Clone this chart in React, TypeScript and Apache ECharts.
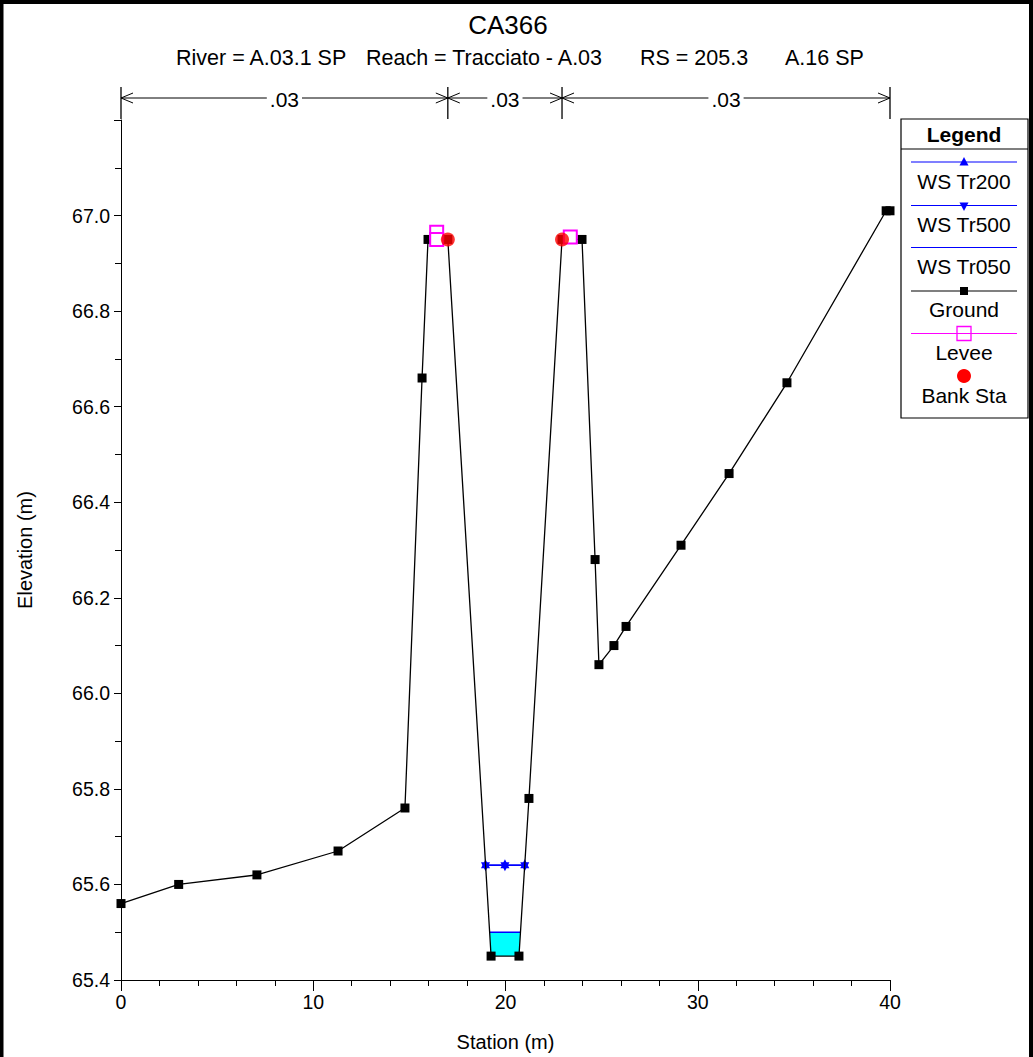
import React, { useEffect, useRef } from 'react';
import * as echarts from 'echarts';

const FONT = '"Liberation Sans", Arial, sans-serif';

const groundStation = [0, 3.0, 7.07, 11.29, 14.77, 15.66, 15.97, 17.0, 19.25, 20.7, 21.22, 22.94, 23.98, 24.66, 24.86, 25.64, 26.27, 29.13, 31.63, 34.64, 39.8, 40.0];
const groundElev = [65.56, 65.6, 65.62, 65.67, 65.76, 66.66, 66.95, 66.95, 65.45, 65.45, 65.78, 66.95, 66.95, 66.28, 66.06, 66.1, 66.14, 66.31, 66.46, 66.65, 67.01, 67.01];

const wsStation = [18.96, 19.97, 21.0];
const wsTr200 = [65.64, 65.64, 65.64];
const wsTr500 = [65.64, 65.64, 65.64];
const wsTr050Station = [19.18, 20.78];
const wsTr050 = [65.5, 65.5];

const leftLeveeStation = [16.42, 16.42];
const leftLeveeElev = [66.965, 66.95];
const rightLeveeStation = [23.37];
const rightLeveeElev = [66.955];

const bankStation = [17.0, 22.94];
const bankElev = [66.95, 66.95];

const nBreaks = [0, 17.0, 22.94, 40];
const nValues = ['.03', '.03', '.03'];

const xMin = 0, xMax = 40, xInterval = 10;
const yMin = 65.4, yMax = 67.2, yInterval = 0.2;

const titleText = 'CA366';
const subtitleParts = ['River = A.03.1 SP', 'Reach = Tracciato - A.03', 'RS = 205.3', 'A.16 SP'];
const legendNames = ['WS Tr200', 'WS Tr500', 'WS Tr050', 'Ground', 'Levee', 'Bank Sta'];

const zip = (xs: number[], ys: number[]) => xs.map((x, i) => [x, ys[i]]);

export default function App() {
  const ref = useRef<HTMLDivElement>(null);
  useEffect(() => {
    const chart = echarts.init(ref.current!, null, { renderer: 'svg' });

    const fillVerts: number[][] = [[wsTr050Station[0], wsTr050[0]]];
    groundStation.forEach((s, i) => {
      if (s > wsTr050Station[0] && s < wsTr050Station[1]) fillVerts.push([s, groundElev[i]]);
    });
    fillVerts.push([wsTr050Station[1], wsTr050[1]]);

    const option: any = {
      animation: false,
      backgroundColor: '#ffffff',
      textStyle: { fontFamily: FONT },
      grid: { left: 121, right: 143, top: 120, bottom: 74 },
      xAxis: {
        type: 'value', min: xMin, max: xMax, interval: xInterval,
        name: 'Station (m)', nameLocation: 'middle', nameGap: 52,
        nameTextStyle: { fontSize: 20, color: '#000', fontFamily: FONT },
        axisLine: { lineStyle: { color: '#000', width: 1 } },
        axisTick: { show: true, length: 11, lineStyle: { color: '#000' } },
        minorTick: { show: true, splitNumber: 5, length: 6, lineStyle: { color: '#000' } },
        axisLabel: { fontSize: 19.5, color: '#000', margin: 12, fontFamily: FONT },
        splitLine: { show: false },
      },
      yAxis: {
        type: 'value', min: yMin, max: yMax, interval: yInterval,
        name: 'Elevation (m)', nameLocation: 'middle', nameGap: 86, nameRotate: 90,
        nameTextStyle: { fontSize: 20, color: '#000', fontFamily: FONT },
        axisLine: { show: true, lineStyle: { color: '#000', width: 1 } },
        axisTick: { show: true, length: 7, lineStyle: { color: '#000' } },
        minorTick: { show: true, splitNumber: 2, length: 6, lineStyle: { color: '#000' } },
        axisLabel: {
          fontSize: 19.5, color: '#000', margin: 11, fontFamily: FONT,
          formatter: (v: number) => (v > yMax - 0.05 ? '' : v.toFixed(1)),
        },
        splitLine: { show: false },
      },
      series: [
        {
          type: 'custom', name: 'WS Tr050 fill', data: [[wsTr050Station[0], wsTr050[0]]],
          z: 1, silent: true,
          renderItem: (_p: any, api: any) => ({
            type: 'polygon',
            shape: { points: fillVerts.map((v) => api.coord(v)) },
            style: { fill: '#00ffff', stroke: 'none' },
          }),
        },
        {
          type: 'line', name: 'WS Tr050', data: zip(wsTr050Station, wsTr050), z: 2,
          showSymbol: false, symbol: 'none', lineStyle: { color: '#0000ff', width: 1.5 },
        },
        {
          type: 'line', name: 'WS Tr200', data: zip(wsStation, wsTr200), z: 3,
          symbol: 'triangle', symbolSize: 9, symbolOffset: [0, -1.5], itemStyle: { color: '#0000ff' },
          lineStyle: { color: '#0000ff', width: 1.5 },
        },
        {
          type: 'line', name: 'WS Tr500', data: zip(wsStation, wsTr500), z: 3,
          symbol: 'triangle', symbolRotate: 180, symbolSize: 9, symbolOffset: [0, 1.5], itemStyle: { color: '#0000ff' },
          lineStyle: { color: '#0000ff', width: 1.5 },
        },
        {
          type: 'line', name: 'Ground', data: zip(groundStation, groundElev), z: 4,
          symbol: 'rect', symbolSize: 9, itemStyle: { color: '#000' },
          lineStyle: { color: '#000', width: 1.3 },
        },
        {
          type: 'line', name: 'Levee', data: zip(leftLeveeStation, leftLeveeElev), z: 5,
          symbol: 'emptyRect', symbolSize: 13, itemStyle: { color: '#ff00ff', borderWidth: 1.3 },
          lineStyle: { color: '#ff00ff', width: 1 },
        },
        {
          type: 'line', name: 'Levee', data: zip(rightLeveeStation, rightLeveeElev), z: 5,
          symbol: 'emptyRect', symbolSize: 13, itemStyle: { color: '#ff00ff', borderWidth: 1.3 },
          lineStyle: { color: '#ff00ff', width: 1 },
        },
        {
          type: 'scatter', name: 'Bank Sta', data: zip(bankStation, bankElev), z: 6,
          symbol: 'circle', symbolSize: 14, itemStyle: { color: '#ff0000' },
        },
      ],
    };
    chart.setOption(option);

    const g: any[] = [];
    g.push({ type: 'rect', shape: { x: 1.5, y: 2, width: 1029.5, height: 1070 }, style: { fill: 'none', stroke: '#000', lineWidth: 4 }, silent: true });
    g.push({ type: 'text', style: { text: titleText, x: 508, y: 25, font: `26px ${FONT}`, fill: '#000', align: 'center', verticalAlign: 'middle', textAlign: 'center', textVerticalAlign: 'middle' } });
    const subX = [176, 366, 640, 785];
    subtitleParts.forEach((t, i) => {
      g.push({ type: 'text', style: { text: t, x: subX[i], y: 58, font: `21.5px ${FONT}`, fill: '#000', align: 'left', verticalAlign: 'middle', textAlign: 'left', textVerticalAlign: 'middle' } });
    });

    const arrowY = 98, barTop = 87, barBot = 119;
    const px = nBreaks.map((s) => chart.convertToPixel({ xAxisIndex: 0, yAxisIndex: 0 }, [s, yMax])[0]);
    px.forEach((x) => {
      g.push({ type: 'line', shape: { x1: x, y1: barTop, x2: x, y2: barBot }, style: { stroke: '#000', lineWidth: 1.3 } });
    });
    for (let i = 0; i < nValues.length; i++) {
      const a = px[i], b = px[i + 1];
      g.push({ type: 'line', shape: { x1: a, y1: arrowY, x2: b, y2: arrowY }, style: { stroke: '#000', lineWidth: 1 } });
      g.push({ type: 'polyline', shape: { points: [[a + 12, arrowY - 5], [a, arrowY], [a + 12, arrowY + 5]] }, style: { stroke: '#000', fill: 'none', lineWidth: 1 } });
      g.push({ type: 'polyline', shape: { points: [[b - 12, arrowY - 5], [b, arrowY], [b - 12, arrowY + 5]] }, style: { stroke: '#000', fill: 'none', lineWidth: 1 } });
      g.push({
        type: 'text', z: 10,
        style: { text: nValues[i], x: (a + b) / 2, y: arrowY + 1, font: `21px ${FONT}`, fill: '#000', align: 'center', verticalAlign: 'middle', textAlign: 'center', textVerticalAlign: 'middle', backgroundColor: '#fff', padding: [0, 3] },
      });
    }

    const lx0 = 901, lx1 = 1028, ly0 = 119, ly1 = 418, lc = 964;
    g.push({ type: 'rect', shape: { x: lx0, y: ly0, width: lx1 - lx0, height: ly1 - ly0 }, style: { fill: '#fff', stroke: '#000', lineWidth: 1.2 } });
    g.push({ type: 'line', shape: { x1: lx0, y1: 149, x2: lx1, y2: 149 }, style: { stroke: '#000', lineWidth: 1.2 } });
    g.push({ type: 'text', style: { text: 'Legend', x: lc, y: 134, font: `bold 21px ${FONT}`, fill: '#000', align: 'center', verticalAlign: 'middle', textAlign: 'center', textVerticalAlign: 'middle' } });
    const lineYs = [162, 205.5, 247.5, 291, 333.5, 376];
    const textYs = [181, 224.5, 266, 309, 352, 395];
    const lineColors = ['#0000ff', '#0000ff', '#0000ff', '#000000', '#ff00ff', null];
    legendNames.forEach((nm, i) => {
      const ly = lineYs[i];
      const col = lineColors[i];
      if (col) g.push({ type: 'line', shape: { x1: 911, y1: ly, x2: 1017, y2: ly }, style: { stroke: col, lineWidth: 1.2 } });
      if (i === 0) g.push({ type: 'polygon', shape: { points: [[lc, ly - 5], [lc - 4.5, ly + 3.5], [lc + 4.5, ly + 3.5]] }, style: { fill: '#0000ff' } });
      if (i === 1) g.push({ type: 'polygon', shape: { points: [[lc - 4.5, ly - 3], [lc + 4.5, ly - 3], [lc, ly + 5.5]] }, style: { fill: '#0000ff' } });
      if (i === 3) g.push({ type: 'rect', shape: { x: lc - 4, y: ly - 4, width: 8, height: 8 }, style: { fill: '#000' } });
      if (i === 4) g.push({ type: 'rect', shape: { x: lc - 7, y: ly - 7, width: 14, height: 14 }, style: { fill: 'none', stroke: '#ff00ff', lineWidth: 1.3 } });
      if (i === 5) g.push({ type: 'circle', shape: { cx: lc, cy: ly, r: 7 }, style: { fill: '#ff0000' } });
      g.push({ type: 'text', style: { text: nm, x: lc, y: textYs[i], font: `21px ${FONT}`, fill: '#000', align: 'center', verticalAlign: 'middle', textAlign: 'center', textVerticalAlign: 'middle' } });
    });

    chart.setOption({ graphic: g });
    return () => chart.dispose();
  }, []);
  return <div ref={ref} style={{ position: 'fixed', left: 0, top: 0, width: 1033, height: 1057, background: '#fff' }} />;
}
